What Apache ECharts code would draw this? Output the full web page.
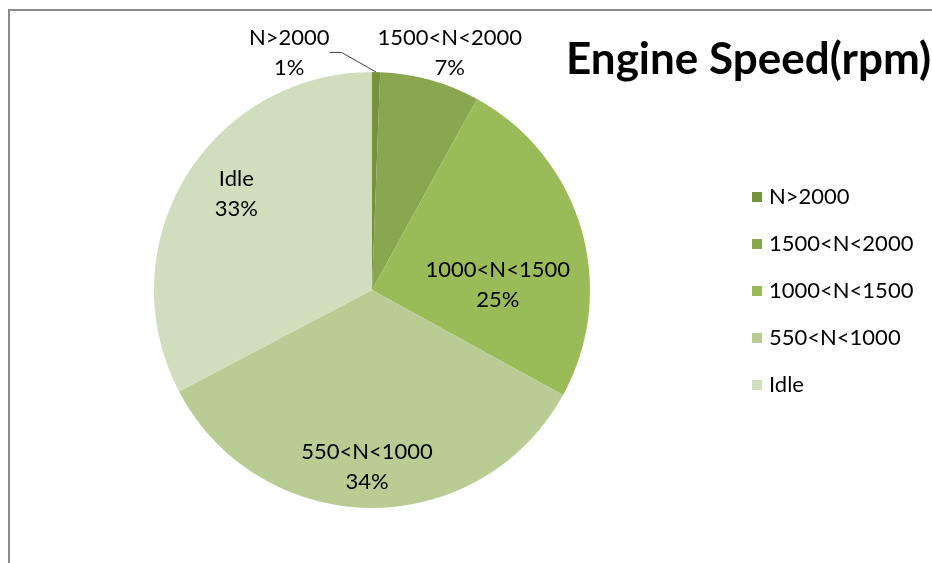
<!DOCTYPE html>
<html>
<head>
<meta charset="utf-8">
<script src="https://cdn.jsdelivr.net/npm/echarts@6/dist/echarts.min.js"></script>
<style>
  html, body { margin: 0; padding: 0; background: #fff; }
  #main { width: 932px; height: 563px; }
</style>
</head>
<body>
<div id="main"></div>
<script>
"use strict";
// engine speed bands, share of time (%)
const categories = ['N>2000', '1500<N<2000', '1000<N<1500', '550<N<1000', 'Idle'];
const shares = [0.6, 7.4, 25.0, 34.3, 32.7];
const colors = ['#76923C', '#8AA64F', '#9BBB59', '#B8CC93', '#D1DEBD'];

const pieCenter = [372, 290];
const pieRadius = 218;
// where each label sits: fraction of radius along slice mid-angle, then nudge (in radii)
const labelReach = [1.09, 1.13, 0.46, 0.81, 0.76];
const labelNudge = [[-0.40, 0], [0.055, 0], [0.135, 0.105], [-0.015, 0], [0.028, -0.046]];

const total = shares.reduce((a, b) => a + b, 0);
const midAngles = [];
let acc = 0;
for (let i = 0; i < shares.length; i++) {
  midAngles.push((acc + shares[i] / 2) / total * Math.PI * 2);
  acc += shares[i];
}

const chart = echarts.init(document.getElementById('main'));
const font = 'Lato, "Open Sans", sans-serif';

const option = {
  animation: false,
  title: {
    text: 'Engine Speed(rpm)',
    left: 561,
    top: 33,
    textStyle: { fontFamily: font, fontSize: 44, fontWeight: 'bold', color: '#000' }
  },
  legend: {
    orient: 'vertical',
    left: 747,
    top: 180,
    itemWidth: 10,
    itemHeight: 10,
    itemGap: 23,
    icon: 'rect',
    data: categories,
    textStyle: { fontFamily: font, fontSize: 22, color: '#000', lineHeight: 24, padding: [0, 0, 0, 2] }
  },
  graphic: [{
    type: 'rect',
    shape: { x: 9, y: 10, width: 1000, height: 1000 },
    style: { fill: 'none', stroke: '#8a8a8a', lineWidth: 2 },
    silent: true
  }],
  series: [{
    type: 'pie',
    center: pieCenter,
    radius: pieRadius,
    startAngle: 90,
    clockwise: true,
    avoidLabelOverlap: false,
    percentPrecision: 0,
    itemStyle: { borderWidth: 0 },
    label: {
      position: 'inside',
      formatter: '{b}\n{d}%',
      fontFamily: font,
      fontSize: 22,
      lineHeight: 30,
      color: '#000'
    },
    labelLine: { show: false },
    labelLayout: function (p) {
      const i = p.dataIndex;
      const a = midAngles[i];
      const x = pieCenter[0] + Math.sin(a) * labelReach[i] * pieRadius + labelNudge[i][0] * pieRadius;
      const y = pieCenter[1] - Math.cos(a) * labelReach[i] * pieRadius + labelNudge[i][1] * pieRadius;
      return { x: x, y: y, align: 'center', verticalAlign: 'middle' };
    },
    data: categories.map((name, i) => {
      const item = { name: name, value: shares[i], itemStyle: { color: colors[i] } };
      if (i === 0) {
        item.label = { position: 'outside' };
        item.labelLine = { show: true, length: 15, length2: 12, lineStyle: { color: '#404040', width: 1 } };
      }
      return item;
    })
  }]
};

chart.setOption(option);
</script>
</body>
</html>
